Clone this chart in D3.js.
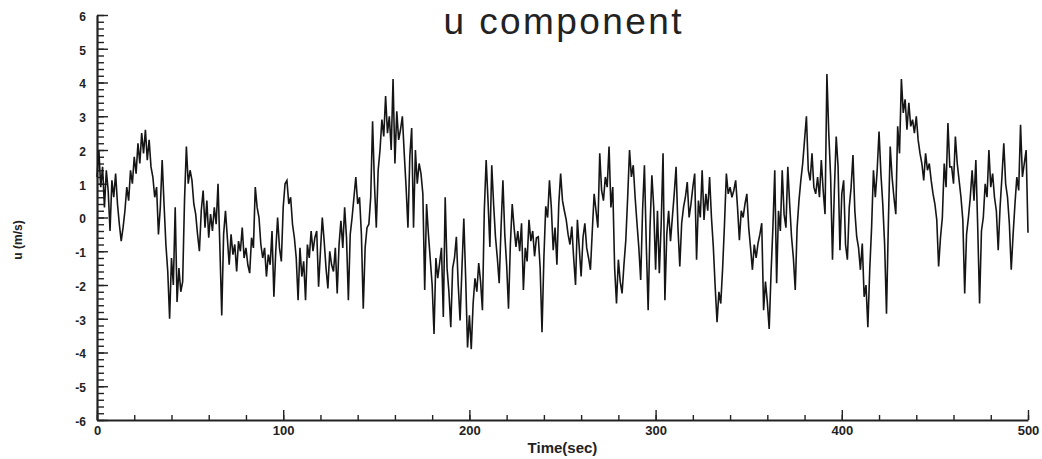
<!DOCTYPE html>
<html>
<head>
<meta charset="utf-8">
<script src="https://cdn.jsdelivr.net/npm/d3@7"></script>
<style>
  body { margin: 0; background: #fff; }
  svg { display: block; font-family: "Liberation Sans", Arial, sans-serif; }
</style>
</head>
<body>
<div id="chart"></div>
<script>
// u velocity, one sample per second (t = 0..500)
const uValues = [
  1.2, 2.0, 0.9, 1.5, 0.3, 1.4, 0.8, -0.4, 1.1, 0.6,
  1.3, 0.4, -0.2, -0.7, -0.3, 0.2, 0.9, 0.5, 1.4, 1.0,
  1.8, 1.3, 2.2, 1.6, 2.5, 1.9, 2.6, 1.7, 2.3, 1.5,
  1.2, 0.6, 0.9, -0.5, 0.3, 1.7, 0.4, -0.8, -1.6, -3.0,
  -1.2, -2.0, 0.3, -2.5, -1.5, -2.2, -1.9, 0.5, 2.1, 1.0,
  1.4, 1.1, 0.4, 0.1, -0.5, -1.0, 0.2, 0.8, -0.3, 0.5,
  -0.6, 0.1, -0.4, 0.3, -0.2, 1.0, -0.9, -2.9, -0.5, 0.2,
  -0.6, -1.4, -0.5, -1.1, -0.8, -1.6, -0.7, -1.0, -0.3, -1.2,
  -0.9, -1.4, -1.65, -0.6, -0.9, 0.9, 0.3, 0.0, -0.8, -1.2,
  -0.9, -1.75, -1.1, -1.4, -0.4, -2.35, -1.0, 0.0, -0.9, -1.3,
  0.3, 1.0, 1.1, 0.4, 0.6, -0.2, -0.6, -1.2, -2.45, -0.9,
  -1.75, -1.3, -2.45, -0.8, -1.2, -0.4, -1.0, -0.6, -0.4, -2.05,
  -1.0, 0.0, -0.7, -1.5, -2.1, -1.0, -1.4, -1.6, -0.9, -2.25,
  -0.8, -0.1, -0.9, 0.3, -0.6, -2.45, -0.5, 0.0, 0.6, 1.2,
  0.4, 0.6, -0.5, -2.7, -0.9, -0.3, -0.2, 0.6, 2.85, 1.0,
  -0.3, 1.4, 2.0, 2.9, 2.4, 3.6, 2.5, 3.0, 2.0, 4.1,
  1.6, 3.15, 2.3, 2.6, 3.0, 1.9, 0.9, -0.3, 1.8, 2.65,
  -0.3, 2.0, 1.0, 1.6, 1.3, 0.7, -2.15, 0.4, -0.5, -1.25,
  -2.0, -3.45, -1.2, -1.8, -1.35, -0.9, -2.95, 0.6, -1.5, -2.2,
  -3.25, -1.5, -1.2, -0.57, -2.0, -3.05, -1.5, -0.03, -1.8, -3.85,
  -2.9, -3.9, -2.55, -1.8, -2.2, -1.35, -1.9, -2.75, 0.2, 1.7,
  0.5, -0.87, 1.55, 0.4, -0.57, -1.2, -1.95, -0.3, 1.1, -0.5,
  -1.4, -2.7, -0.8, 0.4, -0.3, -0.87, -0.4, -1.0, -0.17, -2.15,
  -0.9, -1.3, -0.07, -0.7, -0.4, -1.15, -0.6, -0.57, -1.5, -3.4,
  -1.2, 0.33, 0.0, 1.1, 0.3, -0.97, -0.3, -1.4, 0.4, 1.3,
  0.5, 0.2, -0.07, -0.5, -0.8, -0.27, -1.2, -2.0, -0.07, -0.9,
  -1.75, -0.6, -0.17, -0.9, -1.2, -1.55, -0.4, 0.7, 0.2, -0.3,
  1.9, 0.8, 0.5, 1.2, 0.9, 2.1, 0.3, 0.9, -1.5, -2.55,
  -1.25, -1.9, -2.25, -1.4, -0.67, 0.6, 2.0, 1.2, 1.55, 0.6,
  -0.17, -0.9, -1.85, 0.2, 1.55, -0.8, -2.75, -0.3, 1.25, 0.3,
  -1.55, 0.2, -1.65, -0.2, 1.9, -2.45, -0.5, 0.2, -0.7, 0.0,
  0.7, 1.5, -0.3, -1.45, -0.17, 0.3, 0.6, 1.05, 0.0, 0.4,
  0.9, 1.3, -1.25, 0.5, 0.0, 1.4, -0.07, 0.7, 0.2, 1.2,
  0.0, -0.87, -2.05, -3.1, -2.2, -2.55, -1.5, -0.2, 1.3, 0.7,
  0.9, 0.6, 0.8, 1.1, 0.3, -0.67, 0.2, 0.0, 0.4, 0.7,
  -0.3, -0.9, -1.55, -0.8, -1.2, -0.77, -0.5, -0.17, -2.75, -1.9,
  -2.5, -3.3, -1.65, -0.3, 1.4, -1.95, 0.2, -0.4, 1.4, 0.1,
  -0.3, 1.5, 0.4, -0.57, -1.2, -2.15, -0.3, 0.5, 1.1, 1.6,
  2.3, 3.0, 1.4, 1.1, 1.9, 0.9, 0.7, 1.2, 0.6, 1.7,
  0.8, 0.1, 4.25, 2.5, 1.2, -1.25, 0.8, 2.4, 1.5, -0.97,
  0.7, 1.1, -0.8, -1.25, 0.3, 0.9, 1.85, 0.2, -0.57, -0.9,
  -1.55, -0.77, -2.35, -2.0, -3.25, -1.55, -0.3, 1.4, 0.6, 1.4,
  2.55, 1.3, 0.4, -0.8, -2.85, -0.2, 2.1, 1.2, 0.6, 0.1,
  2.7, 1.9, 4.1, 3.1, 3.5, 2.6, 3.4, 2.7, 2.9, 2.5,
  3.0, 2.3, 1.9, 1.6, 1.1, 1.9, 1.4, 1.6, 1.1, 0.7,
  0.4, -0.07, -1.45, -0.6, 0.0, 1.6, 0.9, 2.8, 1.5, 1.5,
  1.0, 2.4, 1.6, 1.1, 0.6, -0.07, -2.25, -0.5, 0.0, 0.6,
  1.4, 0.5, 1.7, -0.3, -2.55, -0.4, 0.0, 1.0, 0.6, 2.0,
  0.9, 1.3, 0.6, 0.2, -0.97, 0.3, 1.2, 2.2, 1.0, 0.6,
  -0.2, -1.55, -0.5, 0.4, 1.2, 0.8, 2.75, 1.2, 1.6, 2.0,
  -0.45
];
const sampleStep = 1; // seconds between samples

const xTicks = [0, 100, 200, 300, 400, 500];
const yTicks = [-6, -5, -4, -3, -2, -1, 0, 1, 2, 3, 4, 5, 6];

const width = 1042, height = 459;
const plot = { left: 97, right: 1028, top: 15, bottom: 420 };

const svg = d3.select("#chart").append("svg")
  .attr("width", width)
  .attr("height", height);

const x = d3.scaleLinear().domain([0, 500]).range([plot.left, plot.right]);
const y = d3.scaleLinear().domain([-6, 6]).range([plot.bottom, plot.top]);

// minor ticks first (no labels)
svg.append("g")
  .attr("transform", `translate(${plot.left},0)`)
  .call(d3.axisLeft(y).tickValues(d3.range(-6, 6.001, 0.2)).tickSize(-7).tickSizeOuter(0).tickFormat(""))
  .call(g => g.select(".domain").remove());

svg.append("g")
  .attr("transform", `translate(0,${plot.bottom})`)
  .call(d3.axisBottom(x).tickValues(d3.range(0, 501, 20)).tickSize(-5).tickSizeOuter(0).tickFormat(""))
  .call(g => g.select(".domain").remove());

// major ticks + labels (plain hyphen for negatives, like the original)
const yAxis = svg.append("g")
  .attr("transform", `translate(${plot.left},0)`)
  .call(d3.axisLeft(y).tickValues(yTicks).tickSize(-11).tickSizeOuter(0).tickPadding(11).tickFormat(d => String(d)));

const xAxis = svg.append("g")
  .attr("transform", `translate(0,${plot.bottom})`)
  .call(d3.axisBottom(x).tickValues(xTicks).tickSize(-10).tickSizeOuter(0).tickPadding(6));

svg.selectAll(".tick line").attr("stroke", "#222").attr("stroke-width", 1.4);
svg.selectAll(".domain").attr("stroke", "#222").attr("stroke-width", 2.2);
yAxis.selectAll("text")
  .attr("dy", "0.45em")
  .style("font-size", "12px")
  .style("font-weight", "bold")
  .attr("fill", "#222");
xAxis.selectAll("text")
  .style("font-size", "13px")
  .style("font-weight", "bold")
  .attr("fill", "#222");

// the series
const line = d3.line()
  .x((d, i) => x(i * sampleStep))
  .y(d => y(d));

svg.append("path")
  .datum(uValues)
  .attr("fill", "none")
  .attr("stroke", "#151515")
  .attr("stroke-width", 1.6)
  .attr("stroke-linejoin", "miter")
  .attr("d", line);

// title and axis labels
svg.append("text")
  .attr("x", (plot.left + plot.right) / 2)
  .attr("y", 34)
  .attr("text-anchor", "middle")
  .style("font-size", "37px")
  .attr("textLength", 238)
  .attr("lengthAdjust", "spacing")
  .attr("fill", "#222")
  .text("u component");

svg.append("text")
  .attr("x", (plot.left + plot.right) / 2)
  .attr("y", 453)
  .attr("text-anchor", "middle")
  .style("font-size", "15px")
  .style("font-weight", "bold")
  .attr("fill", "#222")
  .text("Time(sec)");

svg.append("text")
  .attr("transform", "translate(22,240) rotate(-90)")
  .attr("text-anchor", "middle")
  .style("font-size", "12px")
  .style("font-weight", "bold")
  .attr("fill", "#222")
  .text("u (m/s)");
</script>
</body>
</html>
